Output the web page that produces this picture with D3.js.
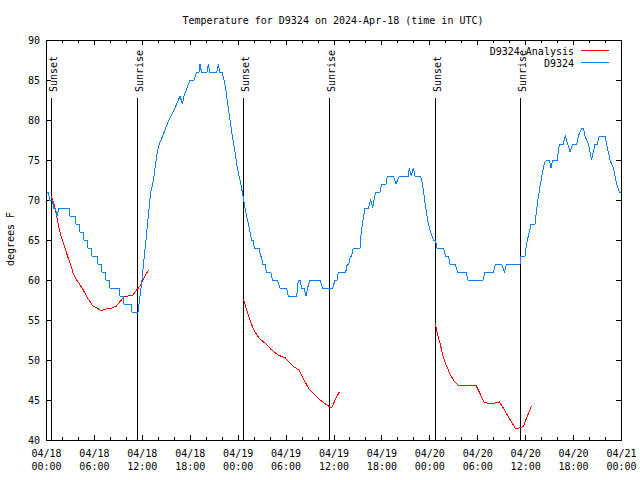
<!DOCTYPE html>
<html>
<head>
<meta charset="utf-8">
<script src="https://cdn.jsdelivr.net/npm/d3@7"></script>
<style>
  html, body { margin: 0; padding: 0; background: #fff; }
  svg { display: block; }
  text { font-family: "DejaVu Sans Mono", "Liberation Mono", monospace; fill: #000; }
</style>
</head>
<body>
<div id="chart"></div>
<script>
// ---------------- DATA ----------------
const titleText = "Temperature for D9324 on 2024-Apr-18 (time in UTC)";
const yLabelText = "degrees F";
const seriesNames = ["D9324 Analysis", "D9324"];
const seriesColors = ["#ff0000", "#0a80ff"];

// hours since 2024-04-18 00:00 UTC
const xTickHours = [0, 6, 12, 18, 24, 30, 36, 42, 48, 54, 60, 66, 72];
const xMinorHours = [2, 4, 8, 10, 14, 16, 20, 22, 26, 28, 32, 34, 38, 40, 44, 46, 50, 52, 56, 58, 62, 64, 68, 70];
const yTicks = [40, 45, 50, 55, 60, 65, 70, 75, 80, 85, 90];

const sunLabels = ["Sunset", "Sunrise", "Sunset", "Sunrise", "Sunset", "Sunrise"];
const sunHours  = [0.66, 11.43, 24.71, 35.47, 48.75, 59.39];

// Observed D9324 (blue)
const blueHours = [0.13,0.31,0.44,0.81,0.94,1.19,1.38,1.63,2.88,3.01,3.63,3.76,4.13,4.26,4.63,4.76,5.13,5.26,5.63,5.76,
  6.39,6.51,6.89,7.01,7.39,7.51,7.89,8.01,9.14,9.27,9.64,9.77,10.64,10.77,11.52,11.65,12.02,12.21,12.52,12.81,
  13.11,13.36,13.52,13.74,13.94,14.19,14.61,14.99,15.40,15.90,16.37,16.78,17.07,17.28,17.66,18.03,18.53,18.87,19.16,19.28,
  19.47,20.16,20.32,20.50,21.38,21.58,21.76,22.04,22.29,22.50,22.75,23.04,23.33,23.67,23.96,24.29,24.58,24.92,25.23,25.55,
  25.76,25.96,26.08,26.67,26.86,26.99,27.11,27.42,27.59,28.14,28.34,28.96,29.30,30.14,30.34,31.39,31.59,31.81,32.02,32.31,
  32.56,32.75,33.06,34.31,34.65,35.90,36.19,36.44,36.60,37.53,37.73,37.92,38.11,38.28,38.48,39.32,39.41,39.61,39.94,40.36,
  40.66,40.91,41.07,41.29,41.82,42.04,42.57,42.74,43.49,43.83,44.24,45.37,45.49,45.74,45.99,46.21,46.83,47.05,47.25,47.46,
  47.67,47.87,48.17,48.50,48.77,48.96,49.75,50.05,50.38,50.59,51.22,51.53,52.59,52.84,54.72,54.97,56.01,56.31,57.06,57.39,
  57.69,59.35,59.48,59.98,60.19,60.52,60.73,61.23,61.44,61.65,61.86,62.15,62.40,62.70,63.02,63.24,63.45,64.03,64.15,64.28,
  64.78,65.03,65.33,65.62,65.95,66.46,66.66,67.08,67.28,67.49,67.91,68.12,68.33,68.53,68.75,69.04,69.28,70.00,70.21,70.41,
  70.62,71.04,71.25,71.46,71.79,72.00];
const blueTemps = [71,71,70,70,69,69,68,69,69,68,68,67,67,66,66,65,65,64,64,63,
  63,62,62,61,61,60,60,59,59,58,58,57,57,56,56,57,60,62,65,68,
  71,72,73,74.6,76,77,78,79,80,81,82,83,82,83,84,85,85,86,86,87,
  86,86,87,86,86,87,86,86,85,84,82,80,78,76,74,72.5,71,69,67.5,66,
  65,65,64,64,63,63,62,62,61,61,60,60,59,59,58,58,60,60,59,59,
  58,59,60,60,59,59,60,60,61,61,62,62,63,63,64,64,65.4,67,69,69,
  70,69,70,71,71,72,72,73,73,72,73,73,74,73,74,73,73,72.5,71.3,69.6,
  68.3,67,66,65,65,64,64,63,63,62,62,61,61,60,60,61,61,62,62,61,
  62,62,63,63,64.6,66,67,67,68.75,70.4,71.7,73.3,74.6,75,75,74,75,75,76,77,
  77,78,77,76,77,77,78,79,79,78,77,76,75,76,77,77,78,78,77,76,
  75,74,73,72,71,71];

// Analysis (red), three forecast runs
const redHours1 = [0.63,0.91,1.13,1.34,1.54,1.75,2.04,2.38,2.72,3.09,3.42,3.84,4.26,4.67,5.10,5.51,5.85,6.35,6.76,7.18,
  7.60,8.23,8.77,9.27,9.77,10.31,10.86,11.36,11.77,12.18,12.61,12.86];
const redTemps1 = [70.5,69.8,69,68,66.9,66,65,64,62.9,61.9,60.8,60,59.4,58.75,57.9,57.3,56.75,56.5,56.25,56.25,
  56.4,56.5,56.7,57.3,57.9,58.0,58.1,58.75,59.25,60.1,60.9,61.25];
const redHours2 = [24.76,25.13,25.46,25.76,26.17,26.71,27.42,28.26,29.09,29.93,30.34,30.97,31.72,32.02,32.43,32.85,
  33.47,34.10,34.72,35.27,35.78,36.19,36.73];
const redTemps2 = [57.5,56.25,55.2,54.4,53.5,52.7,52.1,51.25,50.6,50.3,49.8,49.2,48.7,48.1,47.3,46.5,
  45.8,45.2,44.7,44.3,44.0,45,46.0];
const redHours3 = [48.75,49.00,49.34,49.68,50.09,50.59,51.09,51.63,53.85,54.35,54.85,55.81,56.76,57.27,57.89,58.73,
  59.27,59.77,60.32,60.82];
const redTemps3 = [54.6,53.3,52.1,50.6,49.4,48.25,47.4,46.8,46.8,45.8,44.7,44.5,44.75,44.0,42.9,41.5,
  41.5,41.7,43.1,44.3];

// ---------------- CHART ----------------
const W = 640, H = 480;
const M = { left: 46, right: 19, top: 40, bottom: 40 };
const FS = 10;
const start = Date.UTC(2024, 3, 18);
const toDate = h => new Date(start + h * 3600e3);

const x = d3.scaleUtc().domain([toDate(0), toDate(72)]).range([M.left, W - M.right]);
const y = d3.scaleLinear().domain([40, 90]).range([H - M.bottom, M.top]);

const svg = d3.select("#chart").append("svg").attr("width", W).attr("height", H);
svg.append("rect").attr("width", W).attr("height", H).attr("fill", "#fff");

const fmtDay = d3.utcFormat("%m/%d"), fmtTime = d3.utcFormat("%H:%M");

// bottom axis major
const gb = svg.append("g").attr("transform", `translate(0,${H - M.bottom})`)
  .call(d3.axisBottom(x).tickValues(xTickHours.map(toDate)).tickSize(-5).tickPadding(0));
gb.selectAll(".tick text").each(function(d) {
  const t = d3.select(this);
  t.text(null).attr("y", null).attr("dy", null);
  t.append("tspan").attr("x", 0).attr("y", 17).text(fmtDay(d));
  t.append("tspan").attr("x", 0).attr("y", 30).text(fmtTime(d));
});
// bottom minor
svg.append("g").attr("transform", `translate(0,${H - M.bottom})`)
  .call(d3.axisBottom(x).tickValues(xMinorHours.map(toDate)).tickSize(-3).tickFormat(""));
// top major/minor
svg.append("g").attr("transform", `translate(0,${M.top})`)
  .call(d3.axisTop(x).tickValues(xTickHours.map(toDate)).tickSize(-5).tickFormat(""));
svg.append("g").attr("transform", `translate(0,${M.top})`)
  .call(d3.axisTop(x).tickValues(xMinorHours.map(toDate)).tickSize(-3).tickFormat(""));
// left
svg.append("g").attr("transform", `translate(${M.left},0)`)
  .call(d3.axisLeft(y).tickValues(yTicks).tickSize(-5).tickPadding(6).tickFormat(d3.format("d")));
// right
svg.append("g").attr("transform", `translate(${W - M.right},0)`)
  .call(d3.axisRight(y).tickValues(yTicks).tickSize(-5).tickFormat(""));

svg.selectAll(".domain").remove();
svg.selectAll(".tick line").attr("stroke", "#000").attr("shape-rendering", "crispEdges");
svg.selectAll(".tick text").attr("font-family", "DejaVu Sans Mono").attr("font-size", FS).attr("fill", "#000");

// border
svg.append("rect")
  .attr("x", M.left + 0.5).attr("y", M.top + 0.5)
  .attr("width", W - M.left - M.right).attr("height", H - M.top - M.bottom)
  .attr("fill", "none").attr("stroke", "#000").attr("shape-rendering", "crispEdges");

// sunrise / sunset markers
sunHours.forEach((h, i) => {
  const px = Math.round(x(toDate(h))) + 0.5;
  svg.append("line").attr("x1", px).attr("x2", px).attr("y1", 98).attr("y2", y(40))
    .attr("stroke", "#000").attr("stroke-width", 1).attr("shape-rendering", "crispEdges");
  svg.append("text").attr("transform", `translate(${px + 5},92) rotate(-90)`)
    .attr("font-size", FS).attr("text-anchor", "start").text(sunLabels[i]);
});

// lines
const line = d3.line().x(d => x(toDate(d[0]))).y(d => y(d[1]));
const zip = (a, b) => a.map((v, i) => [v, b[i]]);
[[redHours1, redTemps1], [redHours2, redTemps2], [redHours3, redTemps3]].forEach(([hs, ts]) => {
  svg.append("path").datum(zip(hs, ts)).attr("d", line)
    .attr("fill", "none").attr("stroke", seriesColors[0]).attr("stroke-width", 1)
    .attr("shape-rendering", "crispEdges");
});
svg.append("path").datum(zip(blueHours, blueTemps)).attr("d", line)
  .attr("fill", "none").attr("stroke", seriesColors[1]).attr("stroke-width", 1)
  .attr("shape-rendering", "crispEdges");

// title
svg.append("text").attr("x", 333).attr("y", 24).attr("text-anchor", "middle")
  .attr("font-size", FS).text(titleText);
// y label
svg.append("text").attr("transform", "translate(14,239) rotate(-90)").attr("text-anchor", "middle")
  .attr("font-size", FS).text(yLabelText);

// legend
seriesNames.forEach((name, i) => {
  const ly = 50.5 + i * 12;
  svg.append("text").attr("x", 574).attr("y", ly + 4).attr("text-anchor", "end")
    .attr("font-size", FS).text(name);
  svg.append("line").attr("x1", 581).attr("x2", 609).attr("y1", ly).attr("y2", ly)
    .attr("stroke", seriesColors[i]).attr("stroke-width", 1).attr("shape-rendering", "crispEdges");
});
</script>
</body>
</html>
